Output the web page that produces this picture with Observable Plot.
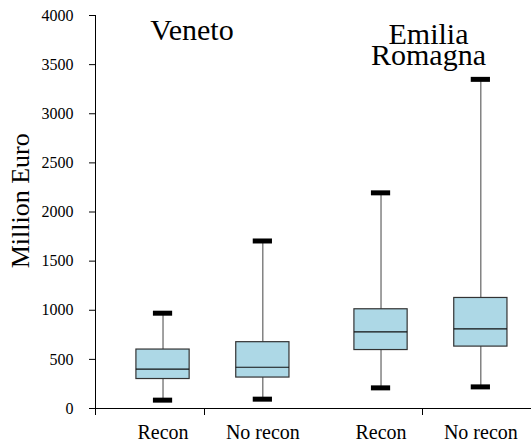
<!DOCTYPE html>
<html><head><meta charset="utf-8">
<script src="https://cdn.jsdelivr.net/npm/d3@7"></script>
<script src="https://cdn.jsdelivr.net/npm/@observablehq/plot@0.6"></script>
<style>
html,body{margin:0;padding:0;background:#fff}
#chart svg, #chart svg g, #chart svg text, #chart svg tspan { font-family: "Liberation Serif", serif !important; }
</style>
</head><body><div id="chart"></div>
<script>
const regions = ["Veneto", "Emilia Romagna"];
const regionTitles = ["Veneto", "Emilia\nRomagna"];
const conditions = ["Recon", "No recon"];
const boxRegion = ["Veneto", "Veneto", "Emilia Romagna", "Emilia Romagna"];
const boxCondition = ["Recon", "No recon", "Recon", "No recon"];
const whiskerLow = [85, 95, 210, 220];
const quartile1 = [300, 315, 595, 630];
const medians = [400, 420, 780, 810];
const quartile3 = [600, 675, 1010, 1125];
const whiskerHigh = [970, 1705, 2195, 3350];
const yTicks = [0, 500, 1000, 1500, 2000, 2500, 3000, 3500, 4000];
const yLabel = "Million Euro";

const boxes = boxRegion.map((r, i) => ({
  region: r, condition: boxCondition[i],
  lo: whiskerLow[i], q1: quartile1[i], med: medians[i], q3: quartile3[i], hi: whiskerHigh[i]
}));
const titles = regions.map((r, i) => ({region: r, title: regionTitles[i]}));
const serif = "Liberation Serif";

const chart = Plot.plot({
  width: 531, height: 443,
  marginLeft: 95, marginRight: 0, marginTop: 15, marginBottom: 35,
  style: {color: "#000", background: "#fff", overflow: "visible"},
  fx: {domain: regions, padding: 0, round: false},
  x: {domain: conditions, paddingInner: 0, paddingOuter: 0.0919, align: 0.96, round: false},
  y: {domain: [0, 4000]},
  marks: [
    Plot.ruleY([0], {stroke: "#000", strokeWidth: 1}),
    Plot.frame({anchor: "left", facetAnchor: "left", insetBottom: -6, stroke: "#000"}),
    Plot.axisY({ticks: yTicks, tickFormat: d => String(d), tickSize: 6, tickPadding: 16, fontSize: 16, fontFamily: serif, label: null, stroke: "#000"}),
    Plot.axisX({anchor: "bottom", tickSize: 0, tickPadding: 16, fontSize: 20, fontFamily: serif, label: null}),
    Plot.axisFx({anchor: "bottom", tickSize: 7, tickFormat: () => "", label: null, stroke: "#000"}),
    Plot.ruleX(boxes, {fx: "region", x: "condition", y1: "lo", y2: "hi", stroke: "#444", strokeWidth: 1}),
    Plot.barY(boxes, {fx: "region", x: "condition", y1: "q1", y2: "q3", fill: "#add8e6", stroke: "#333", strokeWidth: 1.2, insetLeft: 23.3, insetRight: 23.3}),
    Plot.tickY(boxes, {fx: "region", x: "condition", y: "med", stroke: "#111", strokeWidth: 1.2, inset: 23.3}),
    Plot.tickY(boxes, {fx: "region", x: "condition", y: "lo", stroke: "#000", strokeWidth: 5, inset: 40.3}),
    Plot.tickY(boxes, {fx: "region", x: "condition", y: "hi", stroke: "#000", strokeWidth: 5, inset: 40.3}),
    Plot.text(titles.filter(d => d.region === "Veneto"), {fx: "region", text: "title", frameAnchor: "top", lineAnchor: "bottom", dy: 24.5, dx: -12.5, fontSize: 30, fontFamily: serif, fill: "#000"}),
    Plot.text(titles.filter(d => d.region === "Emilia Romagna"), {fx: "region", text: "title", frameAnchor: "top", lineAnchor: "bottom", lineHeight: 0.69, dy: 49, dx: 6, fontSize: 30, fontFamily: serif, fill: "#000"}),
    Plot.text([{region: "Veneto", label: yLabel}], {fx: "region", text: "label", frameAnchor: "left", rotate: -90, lineAnchor: "bottom", textAnchor: "middle", dx: -66.7, dy: -11.2, fontSize: 26, fontFamily: serif, fill: "#000"})
  ]
});
chart.setAttribute("font-family", serif);
[chart, ...chart.querySelectorAll("g, text, tspan")].forEach(el => {
  el.setAttribute("font-family", serif);
  el.style.setProperty("font-family", "'Liberation Serif', serif", "important");
});
document.getElementById("chart").append(chart);
</script>
</body></html>
